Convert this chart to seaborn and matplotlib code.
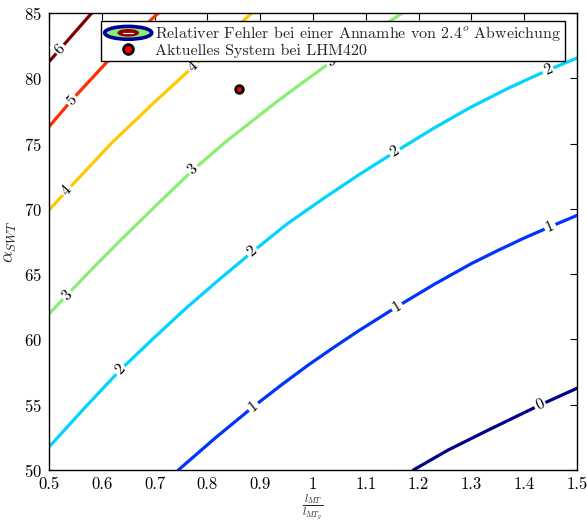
import numpy as np
import pandas as pd
import matplotlib
matplotlib.use("Agg")
import matplotlib.pyplot as plt
import seaborn as sns
from matplotlib.patches import Ellipse, Patch
from matplotlib.lines import Line2D
from matplotlib.legend_handler import HandlerBase

sns.set_theme(style="white")
plt.rcParams.update({
    "font.family": "serif",
    "font.serif": ["cmr10", "DejaVu Serif"],
    "mathtext.fontset": "cm",
    "axes.formatter.use_mathtext": True,
    "axes.unicode_minus": False,
})

# Iso-lines of the relative error (level -> traced points)
level_0_x = [1.190, 1.256, 1.332, 1.430, 1.500]
level_0_y = [50.00, 51.53, 53.06, 54.98, 56.26]

level_1_x = [0.745, 0.816, 0.887, 0.939, 0.991, 1.039, 1.086, 1.159, 1.230, 1.301,
             1.350, 1.398, 1.449, 1.500]
level_1_y = [50.00, 52.49, 54.85, 56.48, 58.04, 59.38, 60.65, 62.51, 64.23, 65.83,
             66.81, 67.73, 68.63, 69.50]

level_2_x = [0.500, 0.568, 0.635, 0.698, 0.760, 0.823, 0.885, 0.950, 1.020, 1.088,
             1.155, 1.228, 1.300, 1.373, 1.445, 1.500]
level_2_y = [51.76, 54.78, 57.66, 60.09, 62.41, 64.61, 66.70, 68.82, 70.80, 72.64,
             74.35, 76.16, 77.81, 79.30, 80.63, 81.55]

level_3_x = [0.500, 0.534, 0.585, 0.636, 0.705, 0.773, 0.833, 0.928, 0.982, 1.035,
             1.102, 1.169]
level_3_y = [61.95, 63.40, 65.54, 67.62, 70.35, 72.98, 75.08, 78.10, 79.72, 81.27,
             83.19, 85.00]

level_4_x = [0.500, 0.534, 0.619, 0.696, 0.773, 0.884]
level_4_y = [69.91, 71.40, 75.06, 78.03, 80.89, 85.00]

level_5_x = [0.500, 0.543, 0.619, 0.707]
level_5_y = [76.29, 78.33, 81.65, 85.00]

level_6_x = [0.500, 0.581]
level_6_y = [81.27, 85.00]

levels = [0, 1, 2, 3, 4, 5, 6]
level_x = [level_0_x, level_1_x, level_2_x, level_3_x, level_4_x, level_5_x, level_6_x]
level_y = [level_0_y, level_1_y, level_2_y, level_3_y, level_4_y, level_5_y, level_6_y]

# where the inline level labels sit along each line
label_x = [
    [1.430],
    [0.887, 1.159, 1.449],
    [0.635, 0.885, 1.155, 1.445],
    [0.534, 0.773, 1.035],
    [0.534, 0.773],
    [0.543],
    [0.521],
]

level_colors = ["#00008b", "#0033ff", "#00d4ff", "#88f070", "#ffc800", "#ff3000", "#800000"]

system_x = [0.860]
system_y = [79.16]

legend_labels = [
    r"Relativer Fehler bei einer Annamhe von 2.4$^o$ Abweichung",
    "Aktuelles System bei LHM420",
]

rows = []
for lv, xs, ys in zip(levels, level_x, level_y):
    for x, y in zip(xs, ys):
        rows.append({"level": lv, "x": x, "y": y})
df = pd.DataFrame(rows)

fig = plt.figure(figsize=(5.87, 5.23), dpi=100)
ax = fig.add_axes([49 / 587, 1 - 470 / 523, 528 / 587, 457 / 523])
ax.set_xlim(0.5, 1.5)
ax.set_ylim(50, 85)

sns.lineplot(data=df, x="x", y="y", hue="level", palette=dict(zip(levels, level_colors)),
             sort=False, estimator=None, units="level", linewidth=2.3, legend=False, ax=ax)

# inline labels, rotated along the line, with a white gap behind them
for lv, xs, ys, lx in zip(levels, level_x, level_y, label_x):
    xs_a = np.asarray(xs)
    ys_a = np.asarray(ys)
    for x0 in lx:
        y0 = np.interp(x0, xs_a, ys_a)
        d = 0.01
        p1 = ax.transData.transform((x0 - d, np.interp(x0 - d, xs_a, ys_a)))
        p2 = ax.transData.transform((x0 + d, np.interp(x0 + d, xs_a, ys_a)))
        ang = np.degrees(np.arctan2(p2[1] - p1[1], p2[0] - p1[0]))
        ax.text(x0, y0, f"{lv}", rotation=ang, rotation_mode="anchor",
                ha="center", va="center", fontsize=11.5, color="black", zorder=5,
                bbox=dict(boxstyle="square,pad=0.12", fc="white", ec="none"))

sns.scatterplot(x=system_x, y=system_y, color="#ff0000", edgecolor="black",
                s=30, linewidth=2.0, zorder=6, ax=ax)

ax.set_xticks(np.arange(0.5, 1.51, 0.1))
ax.set_xticklabels(["0.5", "0.6", "0.7", "0.8", "0.9", "1", "1.1", "1.2", "1.3", "1.4", "1.5"])
ax.set_yticks(np.arange(50, 86, 5))
ax.tick_params(direction="in", top=True, right=True, length=5, width=0.8,
               labelsize=12, colors="black")
ax.tick_params(axis="x", pad=5)
ax.tick_params(axis="y", pad=5)
for s in ax.spines.values():
    s.set_color("black")
    s.set_linewidth(1.0)

ax.set_xlabel(r"$\dfrac{l_{MT}}{l_{MT_y}}$", fontsize=8, labelpad=0)
ax.set_ylabel(r"$\alpha_{SWT}$", fontsize=13, labelpad=4)


class NestedEllipseHandler(HandlerBase):
    def create_artists(self, legend, orig_handle, xdescent, ydescent, width, height,
                       fontsize, trans):
        cx = width / 2 - xdescent
        cy = height / 2 - ydescent
        outer = Ellipse((cx, cy), width * 0.98, height * 1.15, facecolor="#88f070",
                        edgecolor="#000099", linewidth=2.6, transform=trans)
        inner = Ellipse((cx, cy), width * 0.42, height * 0.55, facecolor="#a00000",
                        edgecolor="#8b0000", linewidth=1.0, transform=trans)
        core = Line2D([cx - width * 0.1, cx + width * 0.1], [cy, cy], color="white",
                      linewidth=0.8, transform=trans)
        return [outer, inner, core]


contour_handle = Patch(label=legend_labels[0])
system_handle = Line2D([], [], linestyle="none", marker="o", markersize=7,
                       markerfacecolor="#ff0000", markeredgecolor="black",
                       markeredgewidth=2.0, label=legend_labels[1])

leg = ax.legend(handles=[contour_handle, system_handle],
                handler_map={contour_handle: NestedEllipseHandler()},
                loc="upper right", bbox_to_anchor=(0.977, 0.982), borderaxespad=0,
                fontsize=11.5, frameon=True, fancybox=False, handlelength=3.0,
                handleheight=0.7, handletextpad=0.2, labelspacing=0.0, borderpad=0.2)
leg.get_frame().set_edgecolor("black")
leg.get_frame().set_linewidth(1.0)
leg.get_frame().set_alpha(1.0)
leg.set_zorder(10)

fig.savefig("out.png", dpi=100)
